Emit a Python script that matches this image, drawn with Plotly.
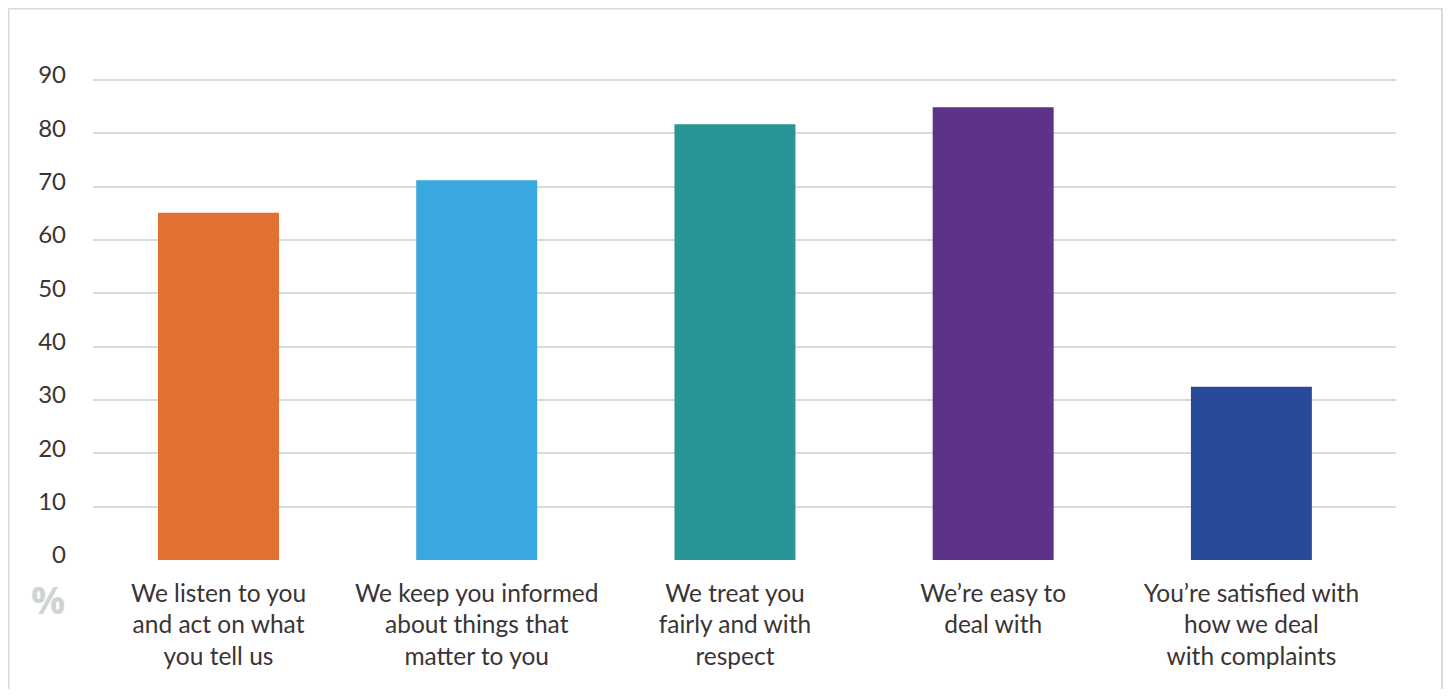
import plotly.graph_objects as go

categories = [
    "We listen to you<br>and act on what<br>you tell us",
    "We keep you informed<br>about things that<br>matter to you",
    "We treat you<br>fairly and with<br>respect",
    "We’re easy to<br>deal with",
    "You’re satisfied with<br>how we deal<br>with complaints",
]
values = [65.1, 71.2, 81.7, 84.9, 32.5]
colors = ["#e27033", "#38a8df", "#289596", "#5d338a", "#284a98"]
y_ticks = [0, 10, 20, 30, 40, 50, 60, 70, 80, 90]

text_color = "#3b3434"
grid_color = "#d5dcdb"

# page body has an 8px margin; figure coordinates are page minus 8
W, H = 1435, 681
L, R, T, B = 85, 1388, 71, 552.5
pw, ph = R - L, B - T

bx0, bx1 = (0.5 - L) / pw, (1434 - L) / pw
by0, by1 = (B - 700) / ph, (B - 0.5) / ph
border_path = f"M {bx0},{by0} L {bx0},{by1} L {bx1},{by1} L {bx1},{by0}"

fig = go.Figure()
fig.add_trace(go.Bar(
    x=list(range(len(categories))),
    y=values,
    marker=dict(color=colors, line=dict(width=0)),
    width=0.4685,
    hoverinfo="skip",
))

fig.update_layout(
    width=W, height=H,
    margin=dict(l=L, r=W - R, t=T, b=H - B, pad=0),
    paper_bgcolor="white", plot_bgcolor="white",
    showlegend=False,
    font=dict(family="Lato, Open Sans, sans-serif", color=text_color, size=24),
    xaxis=dict(
        range=[-0.486, 4.56],
        tickmode="array",
        tickvals=list(range(len(categories))),
        ticktext=categories,
        showgrid=False, zeroline=False, showline=False,
        ticks="", ticklabelstandoff=16,
        tickfont=dict(size=24.5, color=text_color),
    ),
    yaxis=dict(
        range=[0, 90.2],
        tickmode="array",
        tickvals=y_ticks,
        showgrid=True, gridcolor=grid_color, gridwidth=1.5,
        zeroline=False, showline=False, ticks="",
        ticklabelstandoff=26, ticklabelshift=-5,
        tickfont=dict(size=24, color=text_color),
    ),
    shapes=[dict(
        type="path", xref="paper", yref="paper",
        path=border_path,
        line=dict(color=grid_color, width=2),
        layer="below",
    )],
    annotations=[dict(
        text="<b>%</b>", xref="paper", yref="paper",
        x=(40 - L) / pw, y=(B - 592) / ph,
        xanchor="center", yanchor="middle", showarrow=False,
        font=dict(size=38, color="#cdd5d3", family="Open Sans, Lato, sans-serif", weight=800),
    )],
)

fig.write_html("out.html")
